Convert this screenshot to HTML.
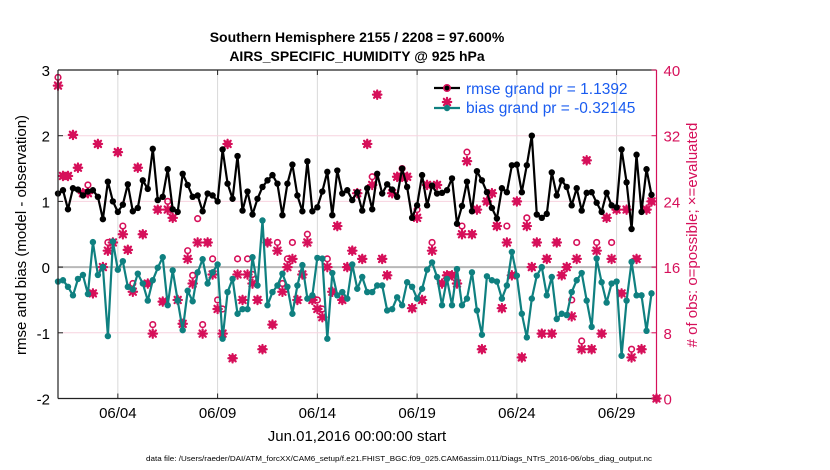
<!DOCTYPE html>
<html><head><meta charset="utf-8">
<style>
html,body{margin:0;padding:0;background:#fff;}
svg{display:block;font-family:"Liberation Sans",Arial,sans-serif;}
</style></head>
<body>
<svg id="chart" width="830" height="470" viewBox="0 0 830 470" xmlns="http://www.w3.org/2000/svg">
  <rect x="0" y="0" width="830" height="470" fill="#fff"/>
  <text x="357" y="42" text-anchor="middle" font-size="14" font-weight="bold">Southern Hemisphere 2155 / 2208 = 97.600%</text>
  <text x="357" y="61" text-anchor="middle" font-size="14" font-weight="bold">AIRS_SPECIFIC_HUMIDITY @ 925 hPa</text>
  <g id="grid"></g>
  <g id="marks"></g>
  <g id="axes"></g>
  <text transform="translate(26,235) rotate(-90)" text-anchor="middle" font-size="15">rmse and bias (model - observation)</text>
  <text transform="translate(697,235) rotate(-90)" text-anchor="middle" font-size="15" fill="#d6105a">#  of obs: o=possible; ×=evaluated</text>
  <text x="357" y="441" text-anchor="middle" font-size="15">Jun.01,2016 00:00:00 start</text>
  <text x="399" y="461" text-anchor="middle" font-size="7.3" textLength="506" lengthAdjust="spacingAndGlyphs">data file: /Users/raeder/DAI/ATM_forcXX/CAM6_setup/f.e21.FHIST_BGC.f09_025.CAM6assim.011/Diags_NTrS_2016-06/obs_diag_output.nc</text>
  <g id="legend"></g>
</svg>
<script>
const rmse = [1.12,1.17,0.88,1.2,1.18,1.09,1.15,1.17,1.07,0.73,1.3,1.0,0.84,0.95,1.26,0.85,0.9,1.32,1.19,1.8,1.02,1.07,1.49,0.88,0.84,1.42,1.25,1.07,1.09,0.85,
1.12,1.09,1.0,1.79,1.27,1.04,1.69,0.86,1.15,0.8,1.04,1.22,1.32,1.4,1.27,0.79,1.27,1.56,1.09,0.85,1.61,0.85,0.91,1.15,1.45,0.79,1.47,1.12,1.17,1.02,
1.14,0.86,1.2,0.88,1.42,1.12,1.26,1.18,1.07,1.5,1.22,0.75,0.94,1.4,0.94,1.24,1.12,1.13,1.17,1.35,0.66,0.93,1.3,0.85,1.46,1.32,1.14,0.9,0.74,1.2,
1.14,1.55,1.56,1.14,1.55,2.0,0.8,0.75,0.81,1.44,1.09,1.32,1.22,0.94,1.2,0.86,1.13,1.14,0.98,0.84,1.13,0.94,0.91,1.79,1.29,0.58,1.71,0.84,1.49,1.1];
const bias = [-0.22,-0.2,-0.3,-0.43,-0.18,-0.12,-0.41,0.38,-0.12,0.0,-1.05,0.39,-0.04,0.09,-0.3,-0.34,-0.1,-0.25,-0.51,-0.2,-0.01,0.15,-0.58,-0.05,-0.51,-0.96,-0.36,-0.52,-0.08,0.12,
-0.25,-0.08,0.04,-1.09,-0.38,-0.18,-0.71,-0.64,-0.64,0.15,-0.28,0.71,-0.58,-0.38,-0.28,-0.1,-0.3,-0.71,-0.28,0.03,-0.48,-0.43,0.14,0.13,-1.09,-0.09,-0.43,-0.38,-0.48,0.04,
-0.33,-0.15,-0.38,-0.38,-0.28,-0.28,-0.66,-0.64,-0.46,-0.58,-0.23,-0.3,-0.48,-0.33,-0.04,0.07,-0.15,-0.58,-0.18,-0.58,-0.03,-0.58,-0.48,-0.08,-0.66,-1.03,-0.14,-0.2,-0.22,-0.48,
-0.28,0.23,-0.13,-0.71,-1.07,-0.48,-0.13,0.0,-0.43,-0.15,-0.79,-0.71,-0.73,-0.38,-0.2,-0.09,-0.51,-0.91,0.13,-0.23,-0.54,-0.25,-0.22,-1.35,-0.51,0.08,-0.43,-0.43,-0.97,-0.4];
const nEvaluated = [38.1,27.1,27.1,32.1,28.1,25,25,12.8,31,16,18,19,30,20,18.1,13,28.1,20,14,7.9,23,11.8,23,22,12,9.1,17,14,19,7.9,
19,15.1,10.9,7.9,31,4.9,15.1,12,15.1,14,12,6,19,9,18,13,16,17,12,15.1,19,12,10.9,9.9,16,13,21,12,16,18,
25,17,31,26,37,17,15,25,27,27,27,11,22,12,26,18,26,14,15,15,14,20,28.9,20,23,6,24,25,21,11,
19,15,24,5,21,16,19,7.9,17,7.9,19,15,16,10,17,6,29,6,18,7.9,22,17,23,12.8,23,5,17,6,23,24,0];
const nPossible = [39.1,27.1,27.1,32.1,28.1,25,26,12.8,31,16,19,19,30,21,18.1,14,28.1,20,14,9,23,11.8,24,22,12,9.1,18,15,21.9,9,
19,17,12,10.9,31,4.9,17,12,17,15.1,12,6,19,9,19,14,17,19,12,15.1,20,12,12,10.9,17,13,21,12,16,18,
25,17,31,27,37,17,15,25,27,28,27,11,23,12,26,19,26,14,15,15,14,21,30,20,23,6,24,25,21,11,
21,15,24,5,22,16,19,7.9,17,7.9,19,15,16,12,19,7,29,6,19,7.9,22,19,23,12.8,23,6,17,6,23,24,0];
const leftTicks = [3,2,1,0,-1,-2];
const rightTicks = [0,8,16,24,32,40];
const xTickDays = [3,8,13,18,23,28];
const xTickLabels = ["06/04","06/09","06/14","06/19","06/24","06/29"];
const stepDays = 0.25;

const NS="http://www.w3.org/2000/svg";
const L=58,R=656.5,T=70,B=398.5;
const xS=d=>L+d*((R-L)/30);
const yL=v=>T+(3-v)*((B-T)/5);
const yR=c=>B-c*((B-T)/40);
const PINK="#d6105a",TEAL="#0f8080";
function mk(tag,attrs,parent){const e=document.createElementNS(NS,tag);for(const k in attrs)e.setAttribute(k,attrs[k]);parent.appendChild(e);return e;}
const grid=document.getElementById('grid'),marks=document.getElementById('marks'),axes=document.getElementById('axes'),legend=document.getElementById('legend');

xTickDays.forEach((d,i)=>{
  const l=mk('line',{x1:xS(d),x2:xS(d),y1:T,y2:B,stroke:'#d9d9d9','stroke-width':1},grid);
  
  
});
rightTicks.forEach(c=>{
  if(c===0||c===40)return;
  const l=mk('line',{x1:L,x2:R,y1:yR(c),y2:yR(c),stroke:'#f7d3df','stroke-width':1},grid);
  
  
});
const zl=mk('line',{x1:L,x2:R,y1:yL(0),y2:yL(0),stroke:'#b8b8b8','stroke-width':2},grid);



function star(x,y,parent,name){
  const g=mk('g',{stroke:PINK,'stroke-width':2.2,'stroke-linecap':'round'},parent);
  
  
  const r=4.2;
  mk('line',{x1:x-r,x2:x+r,y1:y,y2:y},g);
  mk('line',{x1:x,x2:x,y1:y-r,y2:y+r},g);
  mk('line',{x1:x-r*0.75,x2:x+r*0.75,y1:y-r*0.75,y2:y+r*0.75},g);
  mk('line',{x1:x-r*0.75,x2:x+r*0.75,y1:y+r*0.75,y2:y-r*0.75},g);
  return g;
}
// obs counts
nPossible.forEach((c,i)=>{
  const x=xS(i*stepDays);
  const cc=mk('circle',{cx:x,cy:yR(c),r:2.8,fill:'none',stroke:PINK,'stroke-width':1.6},marks);
  
  
});
nEvaluated.forEach((c,i)=>{
  star(xS(i*stepDays),yR(c),marks,'obs-evaluated-point');
});
function series(vals,color,name){
  const pts=vals.map((v,i)=>xS(i*stepDays).toFixed(1)+','+yL(v).toFixed(1)).join(' ');
  const pl=mk('polyline',{points:pts,fill:'none',stroke:color,'stroke-width':2.2,'stroke-linejoin':'round'},marks);
  
  
  vals.forEach((v,i)=>{
    const c=mk('circle',{cx:xS(i*stepDays),cy:yL(v),r:3.2,fill:color},marks);
    
    
  });
}
series(bias,TEAL,'bias');
series(rmse,'#000','rmse');

// axes
const frame=[['L',L,T,L,B,'#222'],['T',L,T,R,T,'#222'],['B',L,B,R,B,'#222'],['R',R,T,R,B,PINK]];
frame.forEach(f=>{
  const l=mk('line',{x1:f[1],y1:f[2],x2:f[3],y2:f[4],stroke:f[5],'stroke-width':1.2},axes);
  
  
});
leftTicks.forEach(v=>{
  const t=mk('text',{x:L-8,y:yL(v)+6,'text-anchor':'end','font-size':15},axes);
  t.textContent=String(v).replace('-','-');
  
  
  mk('line',{x1:L,x2:L+5,y1:yL(v),y2:yL(v),stroke:'#222'},axes);
});
rightTicks.forEach(c=>{
  const t=mk('text',{x:R+7,y:yR(c)+6,'font-size':15,fill:PINK},axes);
  t.textContent=c;
  
  
  mk('line',{x1:R-5,x2:R,y1:yR(c),y2:yR(c),stroke:PINK},axes);
});
xTickDays.forEach((d,i)=>{
  const t=mk('text',{x:xS(d),y:418,'text-anchor':'middle','font-size':15},axes);
  t.textContent=xTickLabels[i];
  
  
  mk('line',{x1:xS(d),x2:xS(d),y1:B-5,y2:B,stroke:'#222'},axes);
  mk('line',{x1:xS(d),x2:xS(d),y1:T,y2:T+5,stroke:'#222'},axes);
});

// legend
const lg1=mk('g',{},legend);


mk('line',{x1:434,x2:460,y1:88,y2:88,stroke:'#000','stroke-width':2.2},lg1);
mk('circle',{cx:447,cy:88,r:3.2,fill:'#000',stroke:PINK,'stroke-width':1.6},lg1);
const t1=mk('text',{x:466,y:94,'font-size':15.5,fill:'#1a5cf0'},lg1);
t1.textContent='rmse grand pr = 1.1392';
const lg2=mk('g',{},legend);


star(447,102,lg2,'legend-star-marker');
mk('line',{x1:434,x2:460,y1:108,y2:108,stroke:TEAL,'stroke-width':2.2},lg2);
mk('circle',{cx:447,cy:108,r:3.2,fill:TEAL},lg2);
const t2=mk('text',{x:466,y:113,'font-size':15.5,fill:'#1a5cf0'},lg2);
t2.textContent='bias grand pr = -0.32145';
</script>
</body></html>
